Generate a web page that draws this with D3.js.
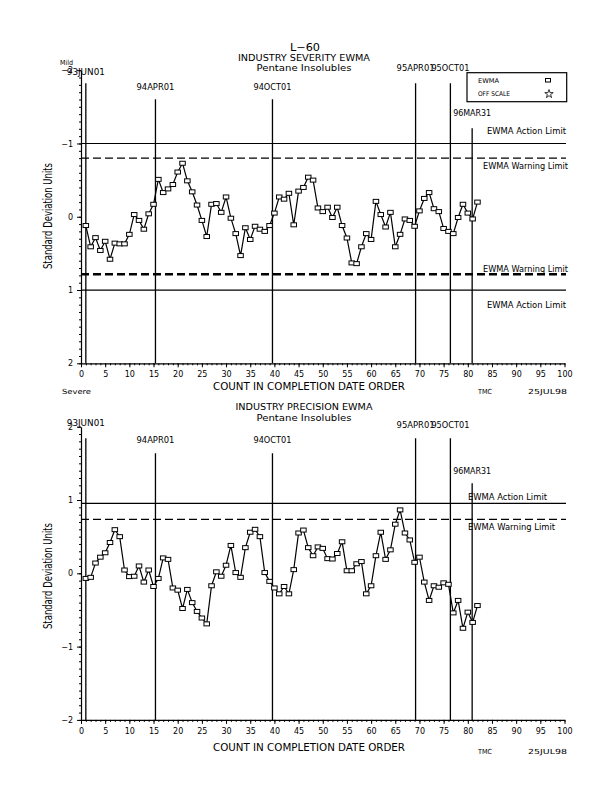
<!DOCTYPE html>
<html><head><meta charset="utf-8">
<script src="https://cdn.jsdelivr.net/npm/d3@7/dist/d3.min.js"></script>
<style>
body{margin:0;background:#fff}
text{font-family:"DejaVu Sans","Liberation Sans",sans-serif;fill:#000}
</style>
</head><body>
<svg id="c" width="616" height="792"></svg>
<script>
// ---------------- DATA ----------------
const severityEWMA = [0.12,0.41,0.285,0.46,0.335,0.58,0.36,0.37,0.37,0.24,
 -0.03,0.05,0.17,-0.04,-0.17,-0.51,-0.33,-0.38,-0.44,-0.61,
 -0.73,-0.49,-0.34,-0.16,0.05,0.27,-0.17,-0.18,-0.06,-0.27,
 0.02,0.23,0.53,0.15,0.31,0.13,0.17,0.20,0.12,-0.05,
 -0.27,-0.24,-0.32,0.11,-0.35,-0.40,-0.54,-0.50,-0.12,-0.07,
 -0.13,0.01,-0.13,0.12,0.29,0.63,0.64,0.41,0.23,0.31,
 -0.21,-0.03,0.14,-0.06,0.41,0.24,0.03,0.05,0.13,-0.08,
 -0.25,-0.33,-0.11,-0.07,0.16,0.20,0.23,0.01,-0.17,-0.05,
 0.03,-0.20];
const precisionEWMA = [-0.07,-0.055,0.14,0.22,0.28,0.42,0.595,0.50,0.045,-0.045,
 -0.04,0.10,-0.12,0.045,-0.18,-0.07,0.21,0.19,-0.20,-0.23,
 -0.48,-0.22,-0.40,-0.52,-0.61,-0.69,-0.17,0.02,-0.04,0.11,
 0.38,0.01,-0.055,0.35,0.56,0.60,0.50,0.01,-0.11,-0.20,
 -0.28,-0.18,-0.28,0.05,0.55,0.59,0.35,0.24,0.36,0.34,
 0.20,0.195,0.27,0.43,0.035,0.035,0.13,0.16,-0.28,-0.17,
 0.24,0.56,0.19,0.32,0.67,0.865,0.55,0.455,0.15,0.22,
 -0.12,-0.37,-0.17,-0.19,-0.13,-0.15,-0.54,-0.37,-0.75,-0.53,
 -0.67,-0.44];
const dateLabels = ["93JUN01","94APR01","94OCT01","95APR01","95OCT01","96MAR31"];
const dateCounts = [1, 15.4, 39.6, 69.2, 76.4, 80.9];
const xTickValues = [0,5,10,15,20,25,30,35,40,45,50,55,60,65,70,75,80,85,90,95,100];
const yTickValues = [-2,-1,0,1,2];
const sevActionLimits = [-1, 1];
const sevWarningLimits = [-0.8, 0.785];
const precActionLimits = [0.955];
const precWarningLimits = [0.737];
const legendLabels = ["EWMA","OFF SCALE"];

// ---------------- LAYOUT ----------------
const svg = d3.select("#c");
svg.append("rect").attr("width",616).attr("height",792).attr("fill","#fff");

function txt(x, y, s, o = {}) {
  const t = svg.append("text").attr("x", x).attr("y", y).text(s)
    .attr("font-size", o.size || 8)
    .attr("dominant-baseline", "central")
    .attr("text-anchor", o.anchor || "start");
  if (o.len) t.attr("textLength", o.len).attr("lengthAdjust", "spacingAndGlyphs");
  if (o.family) t.style("font-family", o.family);
  if (o.rotate) t.attr("transform", `rotate(${o.rotate},${x},${y})`);
  return t;
}

const fmt = d => d < 0 ? "\u2212" + Math.abs(d) : String(d);

function drawChart(cfg) {
  const x = d3.scaleLinear().domain([0, 100]).range([81, 564.5]);
  const y = d3.scaleLinear().domain([-2, 2]).range(cfg.yRange);
  const bottomY = Math.max(...cfg.yRange), topY = Math.min(...cfg.yRange);
  const g = svg.append("g");

  // x axis: minor + major ticks
  g.append("g").attr("transform", `translate(0,${bottomY})`)
    .call(d3.axisBottom(x).tickValues(d3.range(0, 101, 1)).tickSize(2).tickFormat(""))
    .call(a => a.select(".domain").remove());
  const xa = g.append("g").attr("transform", `translate(0,${bottomY})`)
    .call(d3.axisBottom(x).tickValues(xTickValues).tickSize(4).tickSizeOuter(0).tickPadding(4));
  xa.selectAll("text").attr("font-size", 8).style("font-family", '"DejaVu Sans",sans-serif');
  xa.select(".domain").attr("stroke-width", 1.2);

  // y axis: minor + major ticks
  g.append("g").attr("transform", `translate(${x(0)},0)`)
    .call(d3.axisLeft(y).tickValues(d3.range(-20, 21, 1).map(v => v / 10)).tickSize(2).tickFormat(""))
    .call(a => a.select(".domain").remove());
  const ya = g.append("g").attr("transform", `translate(${x(0)},0)`)
    .call(d3.axisLeft(y).tickValues(yTickValues).tickSize(4).tickSizeOuter(0).tickPadding(4).tickFormat(fmt));
  ya.selectAll("text").attr("font-size", 8).style("font-family", '"DejaVu Sans",sans-serif');
  ya.select(".domain").attr("stroke-width", 1.2);

  // limit lines
  cfg.action.forEach(v => {
    g.append("line").attr("x1", x(0)).attr("x2", x(100) + 1.5)
      .attr("y1", y(v)).attr("y2", y(v)).attr("stroke", "#000").attr("stroke-width", 1.2);
  });
  cfg.warning.forEach((v, i) => {
    g.append("line").attr("x1", x(0)).attr("x2", x(100) + 1.5)
      .attr("y1", y(v)).attr("y2", y(v)).attr("stroke", "#000")
      .attr("stroke-width", cfg.warnWidth[i]).attr("stroke-dasharray", "8,4");
  });

  // date reference lines + labels
  dateCounts.forEach((c, i) => {
    g.append("line").attr("x1", x(c)).attr("x2", x(c))
      .attr("y1", cfg.lineTops[i]).attr("y2", bottomY)
      .attr("stroke", "#000").attr("stroke-width", 1.3);
    txt(x(c), cfg.labelY[i], dateLabels[i], {anchor: "middle", size: 8.5, len: 38});
  });

  // series line + markers
  const line = d3.line().x((d, i) => x(i + 1)).y(d => y(d));
  g.append("path").datum(cfg.data).attr("d", line)
    .attr("fill", "none").attr("stroke", "#000").attr("stroke-width", 1.2);
  g.selectAll(null).data(cfg.data).enter().append("rect")
    .attr("x", (d, i) => x(i + 1) - 2.75).attr("y", d => y(d) - 2)
    .attr("width", 5.5).attr("height", 4)
    .attr("fill", "#fff").attr("stroke", "#000").attr("stroke-width", 1);

  // y label
  txt(48, cfg.yLabelCenter, "Standard Deviation Units",
      {anchor: "middle", size: 12, len: 106, rotate: -90, family: '"DejaVu Sans Condensed","DejaVu Sans",sans-serif'});
  // x label
  txt(309, cfg.xTitleY, "COUNT IN COMPLETION DATE ORDER", {anchor: "middle", size: 10, len: 192});
  txt(478, cfg.footY, "TMC", {size: 7, len: 14});
  txt(528, cfg.footY, "25JUL98", {size: 7, len: 39});
  return {x, y};
}

// ----- top chart -----
txt(305, 47, "L\u221260", {anchor: "middle", size: 10, len: 30});
txt(304, 57, "INDUSTRY SEVERITY EWMA", {anchor: "middle", size: 9.5, len: 132});
txt(304, 67, "Pentane Insolubles", {anchor: "middle", size: 9.5, len: 95});
txt(60, 62.5, "Mild", {size: 7, len: 13});
txt(62, 391.5, "Severe", {size: 7, len: 29});

drawChart({
  data: severityEWMA,
  yRange: [70.2, 363.3],
  action: sevActionLimits,
  warning: sevWarningLimits,
  warnWidth: [1.2, 2.6],
  lineTops: [83.3, 99.3, 99.3, 83.3, 83.3, 128.3],
  labelY: [71.5, 86.7, 86.7, 67.5, 67.5, 113.3],
  yLabelCenter: 216,
  xTitleY: 386.5,
  footY: 391.5
});
txt(566, 131, "EWMA Action Limit", {anchor: "end", size: 8, len: 79});
txt(568, 166.7, "EWMA Warning Limit", {anchor: "end", size: 8, len: 85});
txt(568, 269, "EWMA Warning Limit", {anchor: "end", size: 8, len: 85});
txt(566, 305, "EWMA Action Limit", {anchor: "end", size: 8, len: 79});

// legend
svg.append("rect").attr("x", 467).attr("y", 72.7).attr("width", 99.7).attr("height", 29)
  .attr("fill", "#fff").attr("stroke", "#000").attr("stroke-width", 1.2);
txt(478, 80.5, legendLabels[0], {size: 6.5, len: 21});
txt(478, 94, legendLabels[1], {size: 6.5, len: 32});
svg.append("rect").attr("x", 545.5).attr("y", 78.5).attr("width", 5).attr("height", 3.5)
  .attr("fill", "#fff").attr("stroke", "#000").attr("stroke-width", 1);
svg.append("path").attr("d", d3.symbol(d3.symbolStar, 22)()).attr("transform", "translate(549,94)")
  .attr("fill", "#fff").attr("stroke", "#000").attr("stroke-width", 0.8);

// ----- bottom chart -----
txt(304, 406, "INDUSTRY PRECISION EWMA", {anchor: "middle", size: 9.5, len: 137});
txt(304, 417, "Pentane Insolubles", {anchor: "middle", size: 9.5, len: 95});
drawChart({
  data: precisionEWMA,
  yRange: [719.9, 426.7],
  action: precActionLimits,
  warning: precWarningLimits,
  warnWidth: [1.2],
  lineTops: [438.3, 453.3, 453.3, 438.3, 438.3, 483.3],
  labelY: [423.3, 439.5, 439.5, 425, 425, 471],
  yLabelCenter: 576,
  xTitleY: 747.5,
  footY: 752
});
txt(468, 497.3, "EWMA Action Limit", {size: 8, len: 79});
txt(468, 527.3, "EWMA Warning Limit", {size: 8, len: 87});
</script>
</body></html>
